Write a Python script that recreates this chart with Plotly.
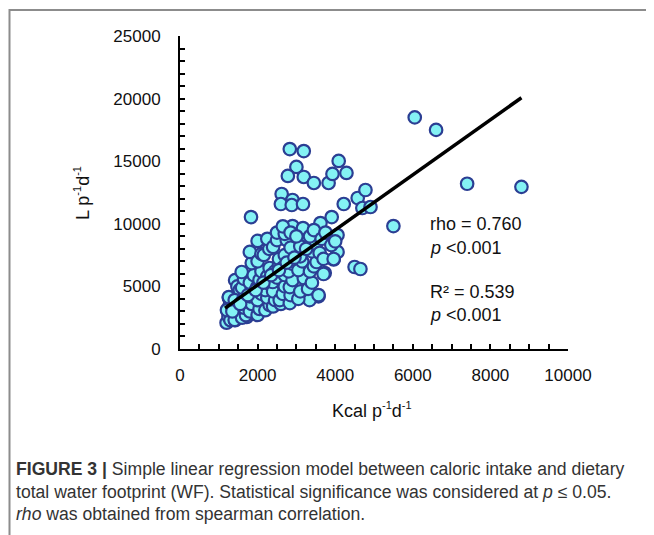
import plotly.graph_objects as go

# Scatter data (Kcal per person per day, L per person per day)
kcal = [
    # outliers / clearly visible points
    6050, 6600, 7400, 8800, 5500, 4500, 4650,
    2830, 3190, 3000, 4090, 2780, 3190, 3450, 3830, 3930, 4290,
    2620, 2900, 2600, 2880, 3170, 4220, 4580, 4780, 4700, 4910,
    1830, 3910, 3620, 4060, 2900, 3170, 4060, 3960, 3730, 3570, 3340, 1720,
    # dense cluster
    1200, 1250, 1220, 1280, 1260, 1300,
    1420, 1470, 1400, 1450, 1500, 1420, 1480, 1410, 1540, 1260, 1210, 1410,
    1600, 1700, 1650, 1620, 1680, 1600, 1650, 1590,
    1800, 1850, 1800, 1850, 1800, 1900, 1850, 1800,
    2000, 2050, 2000, 2100, 2000, 2050, 2100, 2000, 2000, 2100,
    2200, 2310, 2250, 2200, 2300, 2250, 2310, 2160, 2300, 2250,
    2400, 2450, 2400, 2390, 2500, 2450, 2550, 2550, 2400, 2500, 2500,
    2600, 2570, 2650, 2700, 2700, 2650, 2700, 2750, 2700, 2650,
    2830, 2850, 2830, 2900, 2800, 2900, 3000, 2850, 2850,
    3050, 3100, 3190, 3050, 3150, 3100, 3210, 3100, 3000,
    3300, 3400, 3350, 3450, 3520, 3400, 3500, 3350, 3450,
    3570, 3700, 3600, 3650, 3750, 3700,
    3960, 3900, 4000,
    1350, 1550, 1750, 1950, 2150, 2350, 2550, 2750, 2950, 3250,
]
liters = [
    18500, 17500, 13200, 12950, 9820, 6550, 6390,
    15970, 15810, 14540, 15020, 13820, 13740, 13260, 13260, 13980, 14060,
    12380, 11900, 11580, 11500, 11580, 11580, 12060, 12700, 11260, 11340,
    10540, 10540, 10060, 9100, 9820, 9660, 7750, 7150, 6070, 4200, 3910, 2560,
    2100, 2600, 3100, 3500, 4100, 2300,
    2300, 2850, 3400, 3900, 4500, 5500, 5000, 2320, 4710, 4150, 3110, 3910,
    2500, 2700, 3300, 3900, 4400, 4900, 5600, 6150,
    3000, 3600, 4200, 4870, 5300, 5900, 6870, 7750,
    2720, 3200, 3910, 4400, 5000, 5510, 6200, 7000, 8630, 7600,
    3100, 3510, 4100, 4700, 5200, 5800, 6470, 7510, 8000, 8800,
    3400, 3900, 4600, 5350, 5700, 6200, 6700, 7190, 8150, 8700, 9300,
    3600, 3910, 4400, 5000, 5910, 6500, 7500, 8700, 9200, 9800,
    3670, 4300, 4950, 5500, 6200, 6800, 7670, 8100, 9300,
    4000, 4600, 5670, 6300, 7000, 7400, 8630, 8200, 9000,
    4800, 5300, 6200, 6600, 6950, 7800, 8400, 9000, 9500,
    4310, 5990, 7670, 8800, 9300, 7200,
    7190, 8300, 8600,
    3000, 3600, 4300, 4700, 5300, 5900, 6300, 6900, 7300, 8000,
]

# Regression line parameters (L = slope * kcal + intercept)
slope = 2.2
intercept = 710
fit_x = [1160, 8800]
fit_y = [slope * v + intercept for v in fit_x]

x_ticks = [0, 2000, 4000, 6000, 8000, 10000]
y_ticks = [0, 5000, 10000, 15000, 20000, 25000]

FONT = "Liberation Sans, Arial, sans-serif"
SUP = '<sup><span style="font-size:11px">-1</span></sup>'

fig = go.Figure()
fig.add_trace(go.Scatter(
    x=kcal, y=liters, mode="markers",
    marker=dict(size=12.5, color="#84F2F4", line=dict(color="#2B3E93", width=2.2)),
    showlegend=False, hoverinfo="skip", cliponaxis=False,
))
fig.add_trace(go.Scatter(
    x=fit_x, y=fit_y, mode="lines",
    line=dict(color="black", width=3.5),
    showlegend=False, hoverinfo="skip",
))

axis_common = dict(
    showgrid=False, zeroline=False, showline=True, linecolor="black", linewidth=2,
    ticks="inside", ticklen=5, tickwidth=1.5, tickcolor="black",
    tickfont=dict(family=FONT, size=17, color="#111111"),
)
fig.update_xaxes(
    range=[0, 10000], tickvals=x_ticks, ticktext=[str(v) for v in x_ticks],
    minor=dict(ticks="inside", dtick=500, ticklen=5, tickwidth=1.5, tickcolor="black"),
    ticklabelstandoff=10,
    **axis_common,
)
fig.update_yaxes(
    range=[0, 25000], tickvals=y_ticks, ticktext=[str(v) for v in y_ticks],
    minor=dict(ticks="inside", dtick=1000, ticklen=5, tickwidth=1.5, tickcolor="black"),
    ticklabelstandoff=14,
    **axis_common,
)

PLOT_L, PLOT_W, PLOT_B, PLOT_H = 180, 388, 349, 313


def px(xp):
    return (xp - PLOT_L) / PLOT_W


def py(yp):
    return (PLOT_B - yp) / PLOT_H


# axis titles
fig.add_annotation(x=px(372), y=py(410), xref="paper", yref="paper",
                   xanchor="center", yanchor="middle", showarrow=False,
                   text="Kcal p" + SUP + "d" + SUP,
                   font=dict(family=FONT, size=18, color="#111111"))
fig.add_annotation(x=px(82), y=py(193), xref="paper", yref="paper",
                   xanchor="center", yanchor="middle", showarrow=False, textangle=-90,
                   text="L p" + SUP + "d" + SUP,
                   font=dict(family=FONT, size=18, color="#111111"))

stats = [
    ("rho = 0.760", 224),
    ("<i>p</i> <0.001", 248),
    ("R² = 0.539", 292),
    ("<i>p</i> <0.001", 315),
]
for txt, yp in stats:
    fig.add_annotation(
        x=px(428), y=py(yp), xref="paper", yref="paper",
        xanchor="left", yanchor="middle", text=txt, showarrow=False,
        font=dict(family=FONT, size=18, color="#111111"),
    )

caption = [
    ("<b>FIGURE 3 |</b> Simple linear regression model between caloric intake and dietary", 469),
    ("total water footprint (WF). Statistical significance was considered at <i>p</i> ≤ 0.05.", 492),
    ("<i>rho</i> was obtained from spearman correlation.", 514),
]
for txt, yp in caption:
    fig.add_annotation(
        x=px(14), y=py(yp), xref="paper", yref="paper",
        xanchor="left", yanchor="middle", text=txt, showarrow=False,
        font=dict(family=FONT, size=17.6, color="#333333"),
    )

# gray frame (top and left edges visible)
fig.add_shape(
    type="rect", xref="paper", yref="paper",
    x0=px(9.5), x1=px(700), y0=py(600), y1=py(10),
    line=dict(color="#8c8c8c", width=2), fillcolor="rgba(0,0,0,0)", layer="below",
)

fig.update_layout(
    width=654, height=535,
    margin=dict(l=172, r=94, t=28, b=194),
    plot_bgcolor="white", paper_bgcolor="white",
    font=dict(family=FONT),
)

fig.write_html("out.html")
